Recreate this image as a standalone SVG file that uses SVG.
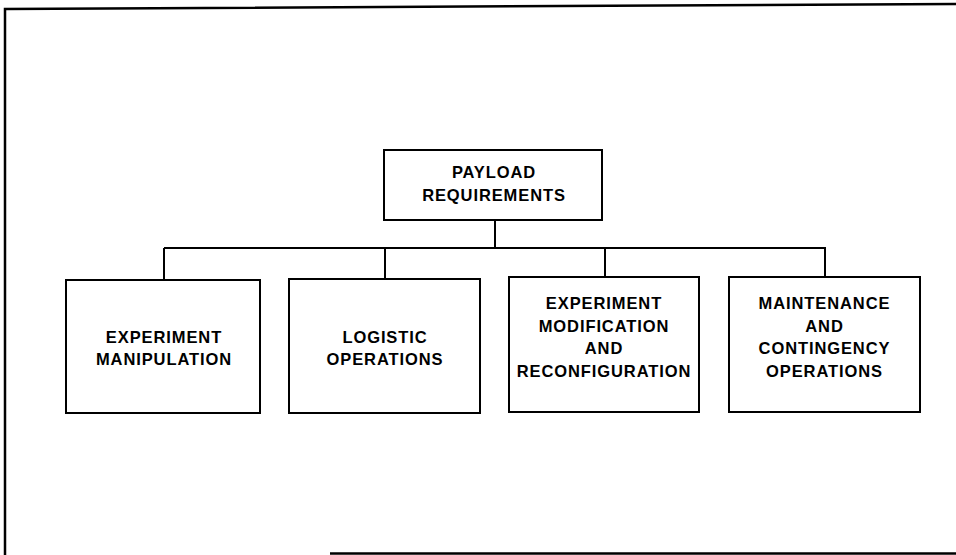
<svg xmlns="http://www.w3.org/2000/svg" width="956" height="555" viewBox="0 0 956 555">
<style>
.box{fill:#fff;stroke:#000;stroke-width:2}
.ln{fill:none;stroke:#000;stroke-width:2}
.frame{fill:none;stroke:#000;stroke-width:2.5}
text{font-family:"Liberation Sans",Arial,sans-serif;font-size:16.5px;font-weight:bold;letter-spacing:0.9px;text-anchor:middle;fill:#000}
</style>
<rect width="956" height="555" fill="#fff"/>
<path class="frame" d="M960,4 L5,9 L5,555 M330,553.5 L960,553.5"/>
<g id="connectors">
<path class="ln" d="M495,220 V248 M164,248 H826 M164,248 V280 M385,248 V279 M605,248 V277 M825,248 V277"/>
</g>
<g id="payload">
<rect class="box" x="384" y="150" width="218" height="70"/>
<text x="494" y="177.5">PAYLOAD</text>
<text x="494" y="201">REQUIREMENTS</text>
</g>
<g id="manipulation">
<rect class="box" x="66" y="280" width="194" height="133"/>
<text x="164" y="342.5">EXPERIMENT</text>
<text x="164" y="365">MANIPULATION</text>
</g>
<g id="logistic">
<rect class="box" x="289" y="279" width="191" height="134"/>
<text x="385" y="342.5">LOGISTIC</text>
<text x="385" y="365">OPERATIONS</text>
</g>
<g id="modification">
<rect class="box" x="509" y="277" width="190" height="135"/>
<text x="604" y="309">EXPERIMENT</text>
<text x="604" y="331.5">MODIFICATION</text>
<text x="604" y="354">AND</text>
<text x="604" y="376.5">RECONFIGURATION</text>
</g>
<g id="maintenance">
<rect class="box" x="729" y="277" width="191" height="135"/>
<text x="824.5" y="309">MAINTENANCE</text>
<text x="824.5" y="331.5">AND</text>
<text x="824.5" y="354">CONTINGENCY</text>
<text x="824.5" y="376.5">OPERATIONS</text>
</g>
</svg>
